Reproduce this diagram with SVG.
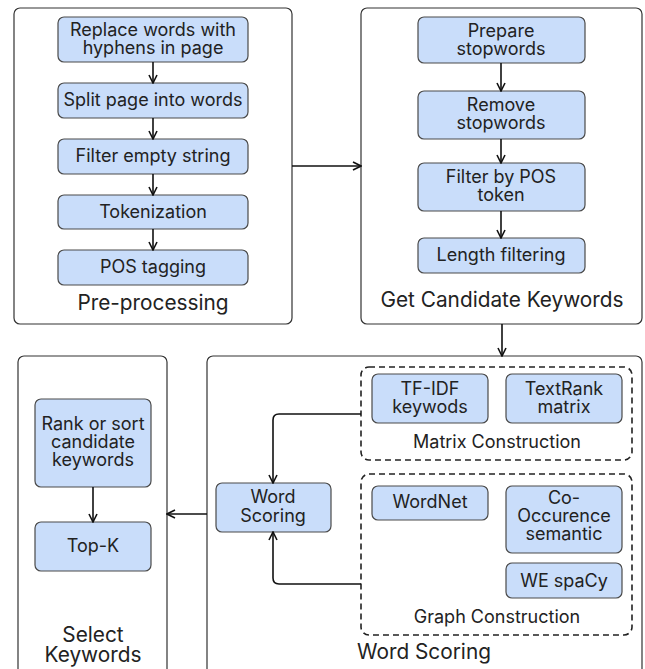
<svg xmlns="http://www.w3.org/2000/svg" width="645" height="669" viewBox="0 0 645 669">
<defs>
<style>
.cont{fill:#fff;stroke:#333;stroke-width:1.2}
.dash{fill:none;stroke:#222;stroke-width:1.6;stroke-dasharray:6 4}
.box{fill:#c9ddfa;stroke:#4a4a4a;stroke-width:1.2}
text{font-family:Inter,"Liberation Sans",sans-serif;fill:#222;text-anchor:middle}
.t{font-size:18px}
.lbl{font-size:20.8px}
.sub{font-size:18px}
.c{fill:none;stroke:#111;stroke-width:1.6}
</style>
<marker id="ah" viewBox="0 0 10 10" refX="9" refY="5" markerWidth="10" markerHeight="10" markerUnits="userSpaceOnUse" orient="auto">
<path d="M1,1 L9,5 L1,9" fill="none" stroke="#111" stroke-width="1.6"/>
</marker>
</defs>
<g id="preprocessing">
<rect class="cont" x="14" y="8" width="278" height="316" rx="6"/>
<text class="lbl" x="153" y="310">Pre-processing</text>
</g>
<g id="candidate">
<rect class="cont" x="361" y="8" width="281" height="316" rx="6"/>
<text class="lbl" x="502" y="307">Get Candidate Keywords</text>
</g>
<g id="select">
<rect class="cont" x="18" y="356" width="149" height="330" rx="6"/>
<text class="lbl" x="93" y="642">Select</text>
<text class="lbl" x="93" y="662">Keywords</text>
</g>
<g id="wordscoring-group">
<rect class="cont" x="207" y="356" width="435" height="330" rx="6"/>
<text class="lbl" x="424" y="659">Word Scoring</text>
</g>
<g id="matrix">
<rect class="dash" x="361" y="367" width="271" height="93" rx="8"/>
<text class="sub" x="497" y="448">Matrix Construction</text>
</g>
<g id="graph">
<rect class="dash" x="361" y="474" width="271" height="161" rx="8"/>
<text class="sub" x="497" y="623">Graph Construction</text>
</g>
<g id="n1"><rect class="box" x="58" y="17" width="190" height="45" rx="6"/><text class="t" x="153" y="36">Replace words with</text><text class="t" x="153" y="54">hyphens in page</text></g>
<g id="n2"><rect class="box" x="58" y="83" width="190" height="35" rx="6"/><text class="t" x="153" y="106">Split page into words</text></g>
<g id="n3"><rect class="box" x="58" y="139" width="190" height="35" rx="6"/><text class="t" x="153" y="162">Filter empty string</text></g>
<g id="n4"><rect class="box" x="58" y="195" width="190" height="34" rx="6"/><text class="t" x="153" y="218">Tokenization</text></g>
<g id="n5"><rect class="box" x="58" y="250" width="190" height="35" rx="6"/><text class="t" x="153" y="273">POS tagging</text></g>
<g id="c1"><rect class="box" x="418" y="17" width="167" height="46" rx="6"/><text class="t" x="501" y="37">Prepare</text><text class="t" x="501" y="55">stopwords</text></g>
<g id="c2"><rect class="box" x="418" y="91" width="167" height="48" rx="6"/><text class="t" x="501" y="111">Remove</text><text class="t" x="501" y="129">stopwords</text></g>
<g id="c3"><rect class="box" x="418" y="163" width="167" height="48" rx="6"/><text class="t" x="501" y="183">Filter by POS</text><text class="t" x="501" y="201">token</text></g>
<g id="c4"><rect class="box" x="418" y="238" width="167" height="35" rx="6"/><text class="t" x="501" y="261">Length filtering</text></g>
<g id="rank"><rect class="box" x="35" y="399" width="116" height="88" rx="6"/><text class="t" x="93" y="430">Rank or sort</text><text class="t" x="93" y="448">candidate</text><text class="t" x="93" y="466">keywords</text></g>
<g id="topk"><rect class="box" x="35" y="522" width="116" height="49" rx="6"/><text class="t" x="93" y="552">Top-K</text></g>
<g id="ws"><rect class="box" x="216" y="483" width="115" height="49" rx="6"/><text class="t" x="273" y="503">Word</text><text class="t" x="273" y="522">Scoring</text></g>
<g id="tfidf"><rect class="box" x="372" y="374" width="116" height="49" rx="6"/><text class="t" x="430" y="395">TF-IDF</text><text class="t" x="430" y="413">keywods</text></g>
<g id="textrank"><rect class="box" x="506" y="374" width="116" height="49" rx="6"/><text class="t" x="564" y="395">TextRank</text><text class="t" x="564" y="413">matrix</text></g>
<g id="wordnet"><rect class="box" x="372" y="486" width="116" height="34" rx="6"/><text class="t" x="430" y="508">WordNet</text></g>
<g id="cooc"><rect class="box" x="506" y="486" width="116" height="67" rx="6"/><text class="t" x="564" y="504">Co-</text><text class="t" x="564" y="522">Occurence</text><text class="t" x="564" y="540">semantic</text></g>
<g id="wespacy"><rect class="box" x="506" y="563" width="116" height="35" rx="6"/><text class="t" x="564" y="587">WE spaCy</text></g>
<g id="connectors">
<path class="c" d="M153,62 V83" marker-end="url(#ah)"/>
<path class="c" d="M153,118 V139" marker-end="url(#ah)"/>
<path class="c" d="M153,174 V195" marker-end="url(#ah)"/>
<path class="c" d="M153,229 V250" marker-end="url(#ah)"/>
<path class="c" d="M501,63 V91" marker-end="url(#ah)"/>
<path class="c" d="M501,139 V163" marker-end="url(#ah)"/>
<path class="c" d="M501,211 V238" marker-end="url(#ah)"/>
<path class="c" d="M292,166 H361" marker-end="url(#ah)"/>
<path class="c" d="M502,324 V356" marker-end="url(#ah)"/>
<path class="c" d="M207,514 H167" marker-end="url(#ah)"/>
<path class="c" d="M93,487 V522" marker-end="url(#ah)"/>
<path class="c" d="M361,414 H279 Q273,414 273,420 V483" marker-end="url(#ah)"/>
<path class="c" d="M361,584 H279 Q273,584 273,578 V532" marker-end="url(#ah)"/>
</g>
</svg>
